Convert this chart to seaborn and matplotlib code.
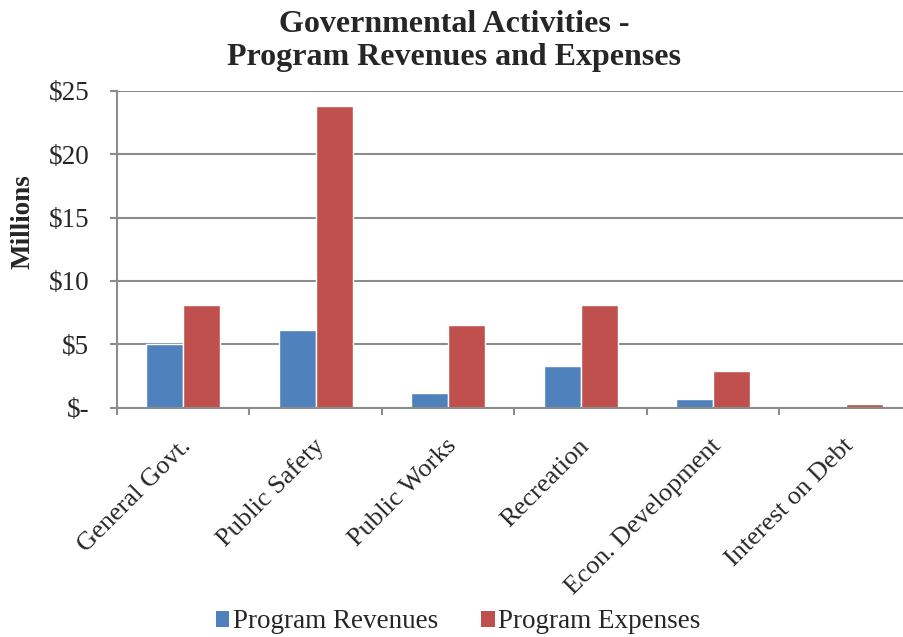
import matplotlib
matplotlib.use("Agg")
import matplotlib.pyplot as plt
import matplotlib.transforms as mtransforms
from matplotlib.patches import Patch
import seaborn as sns
import pandas as pd

# Program data, in millions of dollars
categories = ["General Govt.", "Public Safety", "Public Works",
              "Recreation", "Econ. Development", "Interest on Debt"]
program_revenues = [5.05, 6.1, 1.15, 3.25, 0.7, 0.0]
program_expenses = [8.1, 23.85, 6.55, 8.1, 2.9, 0.25]
series_names = ["Program Revenues", "Program Expenses"]
series_colors = ["#4F81BD", "#C0504D"]
y_ticks = [0, 5, 10, 15, 20, 25]
y_tick_labels = ["$-", "$5", "$10", "$15", "$20", "$25"]

df = pd.DataFrame({
    "Category": categories * 2,
    "Series": [series_names[0]] * len(categories) + [series_names[1]] * len(categories),
    "Value": program_revenues + program_expenses,
})

sns.set_theme(style="white")
plt.rcParams["font.family"] = ["Liberation Serif", "DejaVu Serif"]

FS = 19.5
W, H = 904, 637
fig = plt.figure(figsize=(W / 100, H / 100), dpi=100)
fig.patch.set_facecolor("white")

left, right, top, bottom = 117, 912, 91, 407.5
ax = fig.add_axes([left / W, 1 - bottom / H, (right - left) / W, (bottom - top) / H])

sns.barplot(data=df, x="Category", y="Value", hue="Series",
            palette=series_colors, order=categories, hue_order=series_names,
            width=0.56, saturation=1, ax=ax, legend=False)

grid_color = "#8C8C8C"
ax.set_ylim(0, 25)
ax.set_xlim(-0.5, len(categories) - 0.5)
ax.set_yticks(y_ticks)
ax.set_yticklabels(y_tick_labels, fontsize=FS)
ax.yaxis.grid(True, color=grid_color, linewidth=1.5)
ax.set_axisbelow(True)
for side in ["top", "right"]:
    ax.spines[side].set_visible(False)
for side in ["left", "bottom"]:
    ax.spines[side].set_color(grid_color)
    ax.spines[side].set_linewidth(1.5)

# Category boundary ticks on x, labels at category centres
ax.set_xticks([i + 0.5 for i in range(-1, len(categories))], minor=False)
ax.set_xticklabels([])
ax.set_xticks(range(len(categories)), minor=True)
ax.set_xticklabels(categories, minor=True, fontsize=19, rotation=45,
                   ha="right", va="top", rotation_mode="anchor")
ax.tick_params(axis="x", which="major", direction="out", length=5,
               width=1.5, color=grid_color, bottom=True)
ax.tick_params(axis="x", which="minor", length=0, pad=8)
ax.tick_params(axis="y", which="major", direction="out", length=5,
               width=1.5, color=grid_color, left=True, pad=15)
offset = mtransforms.ScaledTranslation(-3 / 100, -16 / 100, fig.dpi_scale_trans)
for lbl in ax.get_xticklabels(minor=True):
    lbl.set_transform(lbl.get_transform() + offset)

ax.set_xlabel("")
ax.set_ylabel("")
fig.text(23 / W, 1 - 222 / H, "Millions", rotation=90, fontsize=FS,
         fontweight="bold", ha="center", va="center")

fig.text(454 / W, 1 - 32 / H, "Governmental Activities -", fontsize=23,
         fontweight="bold", ha="center", va="baseline")
fig.text(454 / W, 1 - 65 / H, "Program Revenues and Expenses", fontsize=23,
         fontweight="bold", ha="center", va="baseline")

# Legend along the bottom
handles = [Patch(facecolor=c, edgecolor="none") for c in series_colors]
fig.legend(handles, series_names, loc="center", bbox_to_anchor=(458 / W, 1 - 622 / H),
           ncol=2, frameon=False, fontsize=FS, handlelength=0.5, handleheight=0.5,
           handletextpad=0.12, columnspacing=1.6, borderpad=0, borderaxespad=0)

fig.savefig("out.png", dpi=100, facecolor="white")
